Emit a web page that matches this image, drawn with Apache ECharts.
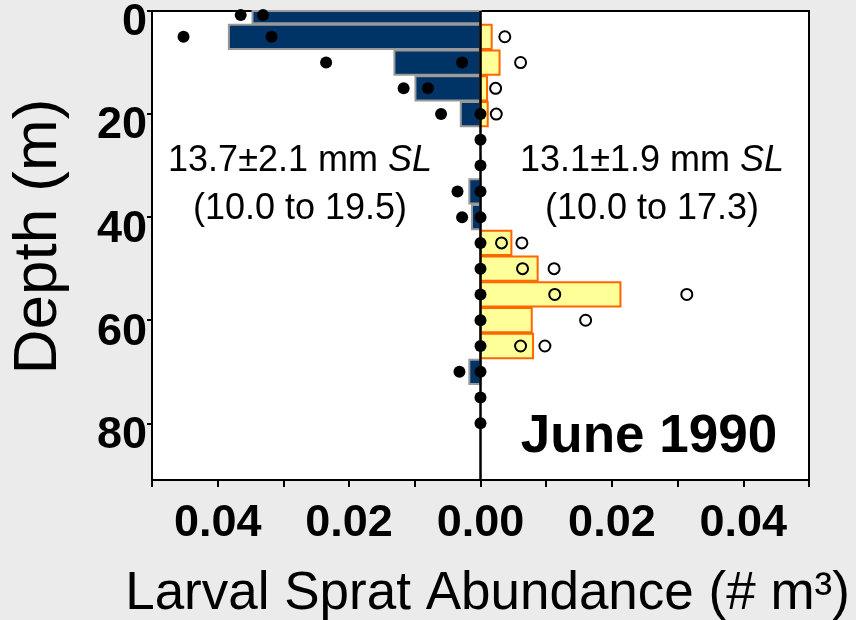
<!DOCTYPE html>
<html>
<head>
<meta charset="utf-8">
<script src="https://cdn.jsdelivr.net/npm/echarts@6/dist/echarts.min.js"></script>
<style>
  html, body { margin: 0; padding: 0; background: #ebebeb; }
  #chart { width: 856px; height: 620px; }
</style>
</head>
<body>
<div id="chart"></div>
<script>
// depth bins (m) and mean abundance per bin
const depths = [0, 5, 10, 15, 20, 25, 30, 35, 40, 45, 50, 55, 60, 65, 70, 75, 80]
const leftMean = [0.0347, 0.0383, 0.0131, 0.0099, 0.0030, 0, 0, 0.0017, 0.0013, 0, 0, 0, 0, 0, 0.0017, 0, 0]
const rightMean = [0, 0.0017, 0.0029, 0.0010, 0.0011, 0, 0, 0, 0, 0.0047, 0.0087, 0.0213, 0.0078, 0.0080, 0, 0, 0]

// individual net samples [depth, abundance]
const leftSamples = [
  [0.8, 0.0365], [0.8, 0.0331], [5, 0.0452], [5, 0.0318], [10, 0.0235], [10, 0.0028],
  [15, 0.0117], [15, 0.0080], [20, 0.0060], [20, 0], [25, 0], [30, 0],
  [35, 0.0035], [35, 0], [40, 0.0028], [40, 0], [45, 0], [50, 0], [55, 0], [60, 0],
  [65, 0], [70, 0.0032], [70, 0], [75, 0], [80, 0],
]
const rightSamples = [
  [5, 0.0037], [10, 0.0061], [15, 0.0023], [20, 0.0024],
  [45, 0.0032], [45, 0.0063], [50, 0.0064], [50, 0.0112], [55, 0.0113], [55, 0.0314],
  [60, 0.0160], [65, 0.0061], [65, 0.0098],
]

const xTicks = [-0.04, -0.02, 0, 0.02, 0.04]
const BIN = 5

const NAVY = '#003366'
const YELLOW = '#ffff99'
const ORANGE = '#ff6600'
const FONT = "'Liberation Sans', Arial, sans-serif"

// horizontal bar spanning one depth bin, drawn from 0 to value
function binBar(params, api) {
  const d = api.value(1)
  const v = api.value(0)
  const p0 = api.coord([0, d])
  const p1 = api.coord([v, d])
  const h = api.size([0, BIN])[1] - 1.5
  const cs = params.coordSys
  const rect = echarts.graphic.clipRectByRect(
    { x: Math.min(p0[0], p1[0]), y: p0[1] - h / 2, width: Math.abs(p1[0] - p0[0]), height: h },
    { x: cs.x, y: cs.y, width: cs.width, height: cs.height }
  )
  return rect && { type: 'rect', shape: rect, style: api.style() }
}

const leftBars = depths.map((d, i) => [-leftMean[i], d]).filter((p) => p[0] !== 0)
const rightBars = depths.map((d, i) => [rightMean[i], d]).filter((p) => p[0] !== 0)

const chart = echarts.init(document.getElementById('chart'))
chart.setOption({
  backgroundColor: '#ebebeb',
  animation: false,
  grid: {
    left: 152, top: 11, right: 47, bottom: 140,
    outerBoundsMode: 'none', containLabel: false,
    show: true, backgroundColor: '#fff', borderColor: '#000', borderWidth: 2,
  },
  xAxis: {
    type: 'value',
    min: -0.05, max: 0.05, interval: 0.01,
    name: 'Larval Sprat Abundance (# m³)',
    nameLocation: 'middle',
    nameGap: 88,
    nameTextStyle: { fontFamily: FONT, fontSize: 53, color: '#000', padding: [0, 0, 0, 14] },
    axisLine: { onZero: false, lineStyle: { color: '#000', width: 2 } },
    axisTick: { length: 7, lineStyle: { color: '#000', width: 2 } },
    splitLine: { show: false },
    axisLabel: {
      margin: 21,
      fontFamily: FONT, fontWeight: 'bold', fontSize: 45, color: '#000',
      formatter: (v) => xTicks.some((t) => Math.abs(t - v) < 1e-9) ? Math.abs(v).toFixed(2) : '',
    },
  },
  yAxis: {
    type: 'value',
    inverse: true,
    min: 0, max: 91, interval: 20,
    name: 'Depth (m)',
    nameLocation: 'middle',
    nameGap: 82,
    nameRotate: 90,
    nameTextStyle: { fontFamily: FONT, fontSize: 62, color: '#000', padding: [0, 0, 0, 18] },
    axisLine: { onZero: false, lineStyle: { color: '#000', width: 2 } },
    axisTick: { length: 5, lineStyle: { color: '#000', width: 2 } },
    splitLine: { show: false },
    axisLabel: {
      margin: 5, showMaxLabel: false,
      verticalAlign: 'top', lineHeight: 24,
      fontFamily: FONT, fontWeight: 'bold', fontSize: 45, color: '#000',
    },
  },
  series: [
    {
      type: 'custom', name: 'left mean', renderItem: binBar,
      data: leftBars, encode: { x: 0, y: 1 }, z: 2,
      itemStyle: { color: NAVY, borderColor: '#999', borderWidth: 2 },
    },
    {
      type: 'custom', name: 'right mean', renderItem: binBar,
      data: rightBars, encode: { x: 0, y: 1 }, z: 2,
      itemStyle: { color: YELLOW, borderColor: ORANGE, borderWidth: 2 },
      markLine: {
        silent: true, symbol: 'none', label: { show: false },
        lineStyle: { color: '#000', width: 2.5, type: 'solid' },
        data: [{ xAxis: 0 }],
      },
    },
    {
      type: 'scatter', name: 'right samples', z: 10,
      data: rightSamples.map((s) => [s[1], s[0]]),
      symbol: 'circle', symbolSize: 11,
      itemStyle: { color: 'rgba(255,255,255,0)', borderColor: '#000', borderWidth: 2, opacity: 1 },
    },
    {
      type: 'scatter', name: 'left samples', z: 11,
      data: leftSamples.map((s) => [-s[1], s[0]]),
      symbol: 'circle', symbolSize: 12,
      itemStyle: { color: '#000', opacity: 1 },
    },
  ],
  graphic: [
    {
      type: 'text', z: 20,
      style: {
        text: '13.7±2.1 mm {i|SL}\n(10.0 to 19.5)',
        x: 300, y: 185, align: 'center', verticalAlign: 'middle',
        font: '36px ' + FONT, fill: '#000', lineHeight: 48,
        rich: { i: { fontStyle: 'italic', fontSize: 36, fontFamily: FONT, lineHeight: 48 } },
      },
    },
    {
      type: 'text', z: 20,
      style: {
        text: '13.1±1.9 mm {i|SL}\n(10.0 to 17.3)',
        x: 652, y: 185, align: 'center', verticalAlign: 'middle',
        font: '36px ' + FONT, fill: '#000', lineHeight: 48,
        rich: { i: { fontStyle: 'italic', fontSize: 36, fontFamily: FONT, lineHeight: 48 } },
      },
    },
    {
      type: 'text', z: 20,
      style: {
        text: 'June 1990',
        x: 649, y: 437, align: 'center', verticalAlign: 'middle',
        font: 'bold 53px ' + FONT, fill: '#000',
      },
    },
  ],
})
</script>
</body>
</html>
